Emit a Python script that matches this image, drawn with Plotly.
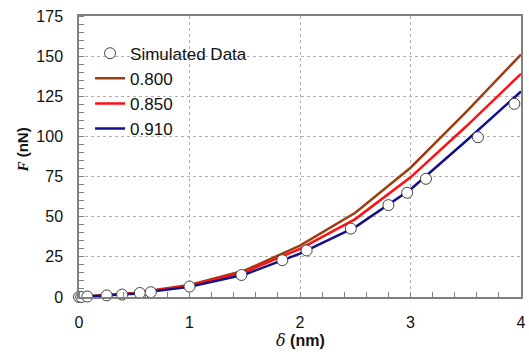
import plotly.graph_objects as go

# Simulated data points
sim_delta = [0.0, 0.02, 0.075, 0.25, 0.39, 0.55, 0.65, 1.0, 1.47, 1.84, 2.06, 2.46, 2.80, 2.97, 3.14, 3.61, 3.94]
sim_force = [0.0, 0.0, 0.3, 1.0, 1.5, 2.5, 3.0, 6.5, 13.7, 22.9, 29.0, 42.6, 57.2, 64.9, 73.6, 99.5, 120.3]

# Model curves
fit_delta = [0.0, 0.5, 1.0, 1.5, 2.0, 2.5, 3.0, 3.5, 4.0]
f_0800 = [0.0, 2.5, 7.5, 16.5, 32.0, 52.5, 80.5, 115.0, 151.0]
f_0850 = [0.0, 2.3, 7.0, 15.5, 30.0, 48.5, 74.5, 106.0, 139.0]
f_0910 = [0.0, 2.0, 6.3, 14.0, 27.0, 43.5, 67.0, 97.0, 128.0]

series = [("0.800", f_0800, "#9c3d12", 2), ("0.850", f_0850, "#ff1010", 3), ("0.910", f_0910, "#10108a", 4)]

fig = go.Figure()
for name, ys, col, rank in series:
    fig.add_trace(go.Scatter(x=fit_delta, y=ys, mode="lines", name=name,
                             line=dict(color=col, width=2.5), legendrank=rank))
fig.add_trace(go.Scatter(x=sim_delta, y=sim_force, mode="markers", name="Simulated Data",
                         marker=dict(symbol="circle", size=11, color="white",
                                     line=dict(color="#404040", width=1)),
                         cliponaxis=False, legendrank=1))

axis_common = dict(showline=True, linecolor="#808080", linewidth=1.5, mirror=True,
                   showgrid=True, gridcolor="#b0b0b0", griddash="dot", gridwidth=1,
                   zeroline=False, ticks="outside", tickcolor="rgba(0,0,0,0)",
                   tickfont=dict(family="Arial, Liberation Sans", size=16, color="#111"),
                   minor=dict(ticks="inside", ticklen=5, tickcolor="#808080", showgrid=False))

fig.update_xaxes(range=[0, 4], dtick=1, ticklen=10, **axis_common)
fig.update_yaxes(range=[0, 175], dtick=25, ticklen=11, **axis_common)

fig.add_annotation(xref="paper", yref="paper", x=0.5, y=0, yshift=-43,
                   xanchor="center", yanchor="middle", showarrow=False,
                   text="<i style='font-family:DejaVu Serif'>δ</i> <b>(nm)</b>",
                   font=dict(family="Arial, Liberation Sans", size=16, color="#111"))
fig.add_annotation(xref="paper", yref="paper", x=0, xshift=-57, y=0.5, yshift=6, textangle=-90,
                   xanchor="center", yanchor="middle", showarrow=False,
                   text="<b><i style='font-family:Liberation Serif'>F</i> (nN)</b>",
                   font=dict(family="Arial, Liberation Sans", size=15, color="#111"))

fig.update_layout(
    width=529, height=354,
    margin=dict(l=79, r=3, t=16, b=57),
    paper_bgcolor="white", plot_bgcolor="white",
    showlegend=True,
    legend=dict(x=0.025, y=0.93, xanchor="left", yanchor="top", bgcolor="rgba(0,0,0,0)",
                font=dict(family="Arial, Liberation Sans", size=17, color="#111"),
                itemwidth=30, tracegroupgap=0),
)

fig.write_html("out.html", config={"displayModeBar": False},
               post_script="document.body.style.margin='0';document.body.style.padding='0';")
